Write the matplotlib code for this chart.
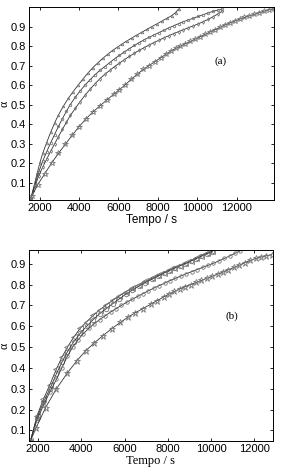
import numpy as np
import matplotlib
matplotlib.use("Agg")
import matplotlib.pyplot as plt

# ---- painel (a) ----
ta_tri = [1550, 1650, 1750, 1875, 2000, 2150, 2350, 2550, 2750, 2950, 3200, 3450, 3700, 3950,
          4200, 4450, 4700, 4950, 5200, 5450, 5700, 5950, 6200, 6450, 6700, 6950, 7200, 7450,
          7700, 7950, 8200, 8450, 8700, 8900, 9050]
aa_tri = [.02, .06, .10, .15, .20, .25, .305, .357, .405, .447, .492, .532, .567, .60,
          .632, .662, .69, .714, .737, .758, .778, .795, .812, .828, .843, .858, .872, .886,
          .90, .914, .928, .942, .956, .972, .99]

ta_circ = [1550, 1750, 1950, 2150, 2350, 2550, 2750, 2950, 3150, 3350, 3550, 3800, 4050, 4300,
           4550, 4800, 5050, 5300, 5550, 5800, 6050, 6300, 6550, 6800, 7050, 7300, 7550, 7800,
           8050, 8300, 8550, 8800, 9050, 9300, 9550, 9800, 10050, 10300, 10550, 10800, 11050,
           11250]
aa_circ = [.02, .09, .155, .21, .258, .303, .346, .388, .428, .465, .50, .537, .57, .60,
           .627, .652, .675, .695, .715, .735, .753, .77, .787, .803, .818, .832, .845, .857,
           .869, .881, .893, .904, .915, .925, .934, .943, .952, .961, .97, .978, .985,
           .99]

ta_diam = ta_circ
aa_diam = [.02, .08, .135, .18, .22, .26, .298, .336, .373, .409, .444, .48, .515, .548,
           .578, .606, .632, .655, .675, .695, .713, .73, .747, .763, .778, .792, .805, .818,
           .83, .842, .853, .864, .874, .884, .894, .904, .914, .925, .937, .95, .965,
           .978]

ta_star = [1600, 1900, 2250, 2600, 2950, 3300, 3650, 4000, 4350, 4700, 5050, 5400, 5750, 6050,
           6350, 6650, 6950, 7250, 7550, 7850, 8150, 8400, 8650, 8900, 9150, 9400, 9650, 9900,
           10150, 10400, 10650, 10900, 11150, 11400, 11650, 11900, 12150, 12400, 12650, 12900,
           13150, 13400, 13650, 13900]
aa_star = [.03, .09, .145, .20, .25, .297, .343, .387, .427, .462, .493, .523, .552, .577,
           .602, .63, .655, .68, .70, .72, .74, .757, .773, .788, .80, .812, .824, .836,
           .848, .86, .872, .884, .896, .908, .918, .928, .938, .947, .955, .963,
           .971, .979, .986, .99]

# ---- painel (b) ----
tb_tri = [1650, 1950, 2250, 2550, 2850, 3100, 3350, 3650, 3950, 4250, 4550, 4850, 5150, 5450,
          5750, 6050, 6350, 6650, 6950, 7250, 7550, 7800, 8050, 8300, 8550, 8800, 9050, 9300,
          9550, 9800, 10050]
ab_tri = [.05, .17, .25, .32, .395, .45, .498, .548, .59, .622, .652, .679, .702, .724,
          .745, .765, .783, .80, .815, .83, .845, .857, .869, .88, .891, .902, .914, .926,
          .938, .95, .96]

tb_sq = tb_tri
ab_sq = [.05, .16, .235, .30, .372, .427, .476, .526, .566, .60, .632, .66, .685, .708,
         .731, .753, .773, .792, .809, .825, .841, .854, .866, .878, .889, .90, .912, .924,
         .936, .948, .958]

tb_circ = [1650, 1950, 2250, 2550, 2850, 3100, 3350, 3600, 3850, 4100, 4350, 4600, 4850, 5100,
           5350, 5600, 5850, 6100, 6350, 6600, 6850, 7100, 7350, 7600, 7850, 8100, 8350, 8600,
           8850, 9100, 9350, 9600, 9850, 10100, 10350, 10600, 10850, 11100, 11350]
ab_circ = [.05, .15, .22, .285, .345, .40, .455, .50, .535, .565, .59, .612, .632, .65,
           .668, .684, .70, .715, .729, .743, .757, .77, .783, .795, .807, .819, .83, .841,
           .852, .862, .872, .882, .892, .902, .913, .925, .937, .95, .962]

tb_star = [1650, 1900, 2350, 2850, 3350, 3800, 4200, 4600, 5000, 5400, 5800, 6150, 6500, 6850,
           7200, 7500, 7800, 8050, 8300, 8550, 8800, 9050, 9300, 9550, 9800, 10050, 10300, 10550,
           10800, 11050, 11300, 11550, 11800, 12050, 12300, 12550, 12800]
ab_star = [.05, .11, .21, .30, .375, .435, .482, .52, .555, .588, .618, .643, .665, .685,
           .705, .723, .74, .754, .767, .779, .79, .80, .81, .82, .83, .84, .85, .86,
           .871, .882, .893, .905, .916, .925, .932, .938, .943]

yticks = [0.1, 0.2, 0.3, 0.4, 0.5, 0.6, 0.7, 0.8, 0.9]
xticks = [2000, 4000, 6000, 8000, 10000, 12000]

sans = "Liberation Sans"
serif = "Liberation Serif"
plt.rcParams['font.family'] = sans

fig = plt.figure(figsize=(2.81, 4.72), dpi=100)
ax1 = fig.add_axes([0.103, 0.576, 0.872, 0.409])
ax2 = fig.add_axes([0.103, 0.066, 0.868, 0.404])

lc = '#333333'
mc = '#777777'
kw = dict(color=lc, lw=0.6, markeredgecolor=mc, markerfacecolor='none', markeredgewidth=0.6)

ax1.plot(ta_tri, aa_tri, marker='^', ms=1.8, **kw)
ax1.plot(ta_circ, aa_circ, marker='o', ms=1.8, **kw)
ax1.plot(ta_diam, aa_diam, marker='d', ms=1.8, **kw)
ax1.plot(ta_star, aa_star, marker='*', ms=4, **kw)

ax2.plot(tb_tri, ab_tri, marker='<', ms=3.8, **kw)
ax2.plot(tb_sq, ab_sq, marker='o', ms=3.2, **kw)
ax2.plot(tb_circ, ab_circ, marker='o', ms=2.5, **kw)
ax2.plot(tb_star, ab_star, marker='*', ms=5, **kw)

for ax in (ax1, ax2):
    ax.set_yticks(yticks)
    ax.set_xticks(xticks)
    ax.tick_params(direction='in', top=True, right=True, labelsize=8, length=2.5, width=0.6, pad=2)
    for s in ax.spines.values():
        s.set_linewidth(0.7)
    ax.set_ylabel('α', family=serif, fontsize=8.5, labelpad=0)

ax1.set_xlim(1450, 13900)
ax1.set_ylim(0.01, 1.0)
ax1.set_xlabel('Tempo / s', fontsize=8.5, labelpad=0.5)
ax1.text(11200, 0.723, '(a)', family=serif, fontsize=8, ha='center', va='center')

ax2.set_xlim(1580, 12850)
ax2.set_ylim(0.05, 0.965)
ax2.set_xlabel('Tempo / s', family=serif, fontsize=9, labelpad=1)
ax2.text(10950, 0.646, '(b)', family=serif, fontsize=8, ha='center', va='center')

fig.savefig('out.png', dpi=100)
